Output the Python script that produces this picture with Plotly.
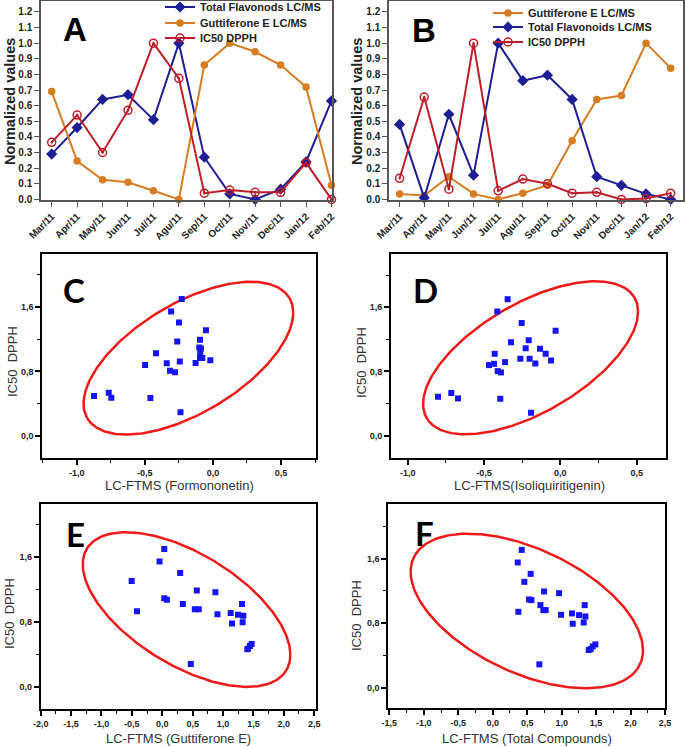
import numpy as np
import plotly.graph_objects as go

# ---------------- data ----------------
months = ["Mar/11", "Apr/11", "May/11", "Jun/11", "Jul/11", "Agu/11",
          "Sep/11", "Oct/11", "Nov/11", "Dec/11", "Jan/12", "Feb/12"]

a_flavonoids = [0.29, 0.46, 0.64, 0.67, 0.51, 1.00, 0.27, 0.035, 0.0, 0.065, 0.24, 0.63]
a_guttiferone = [0.69, 0.245, 0.125, 0.11, 0.055, 0.0, 0.86, 1.00, 0.945, 0.86, 0.72, 0.09]
a_ic50 = [0.365, 0.54, 0.30, 0.57, 1.00, 0.775, 0.04, 0.06, 0.045, 0.045, 0.235, 0.0]

b_guttiferone = [0.035, 0.025, 0.145, 0.035, 0.0, 0.04, 0.09, 0.375, 0.64, 0.665, 1.00, 0.84]
b_flavonoids = [0.48, 0.01, 0.545, 0.155, 1.00, 0.76, 0.795, 0.64, 0.145, 0.09, 0.035, 0.0]
b_ic50 = [0.135, 0.655, 0.065, 1.00, 0.055, 0.13, 0.10, 0.04, 0.045, 0.0, 0.005, 0.04]

c_x = [-0.229, -0.307, -0.249, -0.051, -0.262, -0.095, -0.100, -0.088, -0.093, -0.095, -0.078,
       -0.019, -0.418, -0.498, -0.339, -0.243, -0.127, -0.315, -0.278, -0.873, -0.765, -0.746,
       -0.459, -0.238]
c_y = [1.70, 1.546, 1.409, 1.313, 1.172, 1.193, 1.097, 1.085, 1.027, 0.966, 0.966,
       0.939, 1.027, 0.881, 0.902, 0.923, 0.906, 0.810, 0.790, 0.495, 0.536, 0.474,
       0.470, 0.291]

d_x = [-0.345, -0.413, -0.253, -0.031, -0.323, -0.207, -0.227, -0.133, -0.096, -0.430, -0.262,
       -0.201, -0.061, -0.164, -0.362, -0.434, -0.467, -0.410, -0.389, -0.801, -0.714, -0.670,
       -0.393, -0.192]
d_y = [1.70, 1.546, 1.405, 1.306, 1.165, 1.19, 1.09, 1.082, 1.02, 1.02, 0.958,
       0.958, 0.937, 0.90, 0.916, 0.895, 0.879, 0.804, 0.788, 0.485, 0.531, 0.464,
       0.46, 0.286]

e_x = [0.033, -0.044, 0.295, -0.503, 0.569, 0.875, 0.033, 0.077, 0.339, 1.312, 0.536,
       0.601, -0.416, 0.908, 1.126, 1.247, 1.334, 1.148, 1.323, 1.471, 1.443, 1.411,
       1.400, 0.470]
e_y = [1.703, 1.547, 1.407, 1.309, 1.19, 1.169, 1.095, 1.079, 1.026, 1.026, 0.96,
       0.96, 0.935, 0.898, 0.915, 0.894, 0.882, 0.784, 0.80, 0.533, 0.509, 0.476,
       0.468, 0.287]

f_x = [0.421, 0.363, 0.551, 0.459, 0.745, 0.963, 0.527, 0.561, 0.692, 1.335, 0.735,
       0.769, 0.372, 0.992, 1.151, 1.253, 1.345, 1.161, 1.320, 1.490, 1.451, 1.422,
       1.393, 0.677]
f_y = [1.707, 1.551, 1.41, 1.311, 1.192, 1.171, 1.093, 1.085, 1.023, 1.023, 0.961,
       0.961, 0.94, 0.903, 0.92, 0.899, 0.882, 0.792, 0.808, 0.536, 0.511, 0.478,
       0.466, 0.289]

# confidence ellipse parameters per panel (C, D, E, F): centre, std-devs, covariance
ell_cx = [-0.18, -0.195, 0.40, 0.495]
ell_cy = [0.965, 0.97, 0.957, 0.95]
ell_sx = [0.77, 0.704, 1.708, 1.686]
ell_sy = [0.95, 0.953, 0.952, 0.958]
ell_sxy = [0.435, 0.405, -0.95, -0.82]

x_titles = ["LC-FTMS (Formononetin)", "LC-FTMS(Isoliquiritigenin)",
            "LC-FTMS (Guttiferone E)", "LC-FTMS (Total Compounds)"]

# ---------------- styling ----------------
W, H = 685, 747
BLUE = "rgb(30,30,150)"
ORANGE = "rgb(214,125,35)"
RED = "rgb(190,30,40)"
SQ = "rgb(20,20,245)"
ELL = "rgb(240,25,25)"


def px_x(v):
    return v / W


def px_y(v):
    return 1 - v / H


fig = go.Figure()

# ---- line panels ----
def line_trace(y, name, color, symbol, size, xa, ya, legend):
    return go.Scatter(
        x=months, y=y, name=name, mode="lines+markers",
        line=dict(color=color, width=2),
        marker=dict(color=color, symbol=symbol, size=size,
                    line=dict(color=color, width=1.5)),
        xaxis=xa, yaxis=ya, legend=legend, cliponaxis=False)

fig.add_trace(line_trace(a_flavonoids, "Total Flavonods LC/MS", BLUE, "diamond", 7, "x", "y", "legend"))
fig.add_trace(line_trace(a_guttiferone, "Guttiferone E LC/MS", ORANGE, "circle", 6, "x", "y", "legend2"))
fig.add_trace(line_trace(a_ic50, "IC50 DPPH", RED, "circle-open-dot", 8, "x", "y", "legend3"))
fig.add_trace(line_trace(b_guttiferone, "Guttiferone E LC/MS", ORANGE, "circle", 6, "x2", "y2", "legend4"))
fig.add_trace(line_trace(b_flavonoids, "Total Flavonoids LC/MS", BLUE, "diamond", 7, "x2", "y2", "legend5"))
fig.add_trace(line_trace(b_ic50, "IC50 DPPH", RED, "circle-open-dot", 8, "x2", "y2", "legend6"))

# ---- scatter panels ----
scatter_sets = [(c_x, c_y), (d_x, d_y), (e_x, e_y), (f_x, f_y)]
t = np.linspace(0, 2 * np.pi, 300)
for i, (sx_data, sy_data) in enumerate(scatter_sets):
    xa = "x%d" % (i + 3)
    ya = "y%d" % (i + 3)
    k = ell_sxy[i] / ell_sx[i]
    m = np.sqrt(ell_sy[i] ** 2 - k ** 2)
    ex = ell_cx[i] + ell_sx[i] * np.cos(t)
    ey = ell_cy[i] + k * np.cos(t) + m * np.sin(t)
    fig.add_trace(go.Scatter(x=ex, y=ey, mode="lines", line=dict(color=ELL, width=2.5),
                             xaxis=xa, yaxis=ya, showlegend=False, hoverinfo="skip"))
    fig.add_trace(go.Scatter(x=sx_data, y=sy_data, mode="markers",
                             marker=dict(symbol="square", size=6, color=SQ),
                             xaxis=xa, yaxis=ya, showlegend=False))

# ---- axes ----
line_tick_font = dict(family="Liberation Sans, Arial", size=10, color="#222", weight="bold")
common_line_x = dict(type="category", showline=True, linecolor="#555", linewidth=1.5, mirror=True,
                     ticks="outside", ticklen=5, tickcolor="#555", tickangle=-45,
                     tickfont=line_tick_font, showgrid=False, zeroline=False, fixedrange=True,
                     automargin=False)
common_line_y = dict(range=[-0.004, 1.27], showline=True, linecolor="#555", linewidth=1.5, mirror=True,
                     ticks="outside", ticklen=5, tickcolor="#555", tickvals=[i / 10 for i in range(13)],
                     ticktext=["%.1f" % (i / 10) for i in range(13)],
                     tickfont=line_tick_font, showgrid=False, zeroline=False, fixedrange=True,
                     automargin=False)

fig.update_layout(
    xaxis=dict(domain=[px_x(41), px_x(332)], anchor="y", range=[-0.42, 11.02], **common_line_x),
    yaxis=dict(domain=[px_y(200), px_y(1)], anchor="x", **common_line_y),
    xaxis2=dict(domain=[px_x(389), px_x(683)], anchor="y2", range=[-0.43, 11.5], **common_line_x),
    yaxis2=dict(domain=[px_y(200), px_y(1)], anchor="x2", **common_line_y),
)

sc_tick_font = dict(family="Liberation Sans, Arial", size=9, color="#222", weight="bold")
sc_domains = [
    ([42.3, 315.7], [458.3, 254]),
    ([391, 665.7], [458, 254]),
    ([40.7, 316], [709, 504]),
    ([388.3, 665], [708, 504]),
]
sc_xranges = [[-1.253, 0.755], [-1.109, 0.69], [-2.0, 2.53], [-1.515, 2.5]]
sc_yranges = [[-0.28, 2.26], [-0.278, 2.263], [-0.267, 2.256], [-0.252, 2.276]]
sc_xticks = [[-1.0, -0.5, 0.0, 0.5], [-1.0, -0.5, 0.0, 0.5],
             [-2.0, -1.5, -1.0, -0.5, 0.0, 0.5, 1.0, 1.5, 2.0, 2.5],
             [-1.5, -1.0, -0.5, 0.0, 0.5, 1.0, 1.5, 2.0, 2.5]]
y_ticks = [0.0, 0.8, 1.6]


def fmt(v):
    return ("%.1f" % v).replace(".", ",")


for i in range(4):
    n = i + 3
    xd, yd = sc_domains[i]
    fig.layout["xaxis%d" % n] = dict(
        domain=[px_x(xd[0]), px_x(xd[1])], anchor="y%d" % n, range=sc_xranges[i],
        showline=True, linecolor="black", linewidth=2, mirror=True,
        ticks="outside", ticklen=5, tickwidth=1.5, tickcolor="black",
        tickvals=sc_xticks[i], ticktext=[fmt(v) for v in sc_xticks[i]],
        minor=dict(ticks="outside", ticklen=3, tickwidth=1.2, tickcolor="black", dtick=0.25, tick0=0,
                   showgrid=False),
        tickfont=sc_tick_font, showgrid=False, zeroline=False, fixedrange=True, automargin=False)
    fig.layout["yaxis%d" % n] = dict(
        domain=[px_y(yd[0]), px_y(yd[1])], anchor="x%d" % n, range=sc_yranges[i],
        showline=True, linecolor="black", linewidth=2, mirror=True,
        ticks="outside", ticklen=5, tickwidth=1.5, tickcolor="black",
        tickvals=y_ticks, ticktext=[fmt(v) for v in y_ticks],
        minor=dict(ticks="outside", ticklen=3, tickwidth=1.2, tickcolor="black", dtick=0.4, tick0=0,
                   showgrid=False),
        tickfont=sc_tick_font, showgrid=False, zeroline=False, fixedrange=True, automargin=False)

# ---- annotations (titles, panel letters) ----
ann = []


def add_ann(text, xc, yc, font, angle=0):
    ann.append(dict(text=text, x=px_x(xc), y=px_y(yc), xref="paper", yref="paper",
                    xanchor="center", yanchor="middle", textangle=angle, showarrow=False,
                    font=font))


for xc in [10, 357]:
    add_ann("<b>Normalized values</b>", xc, 102,
            dict(family="Liberation Sans, Arial", size=14.5, color="#222"), -90)
for xc, yc in [(12, 362), (361, 362), (9, 614), (356, 616)]:
    add_ann("IC50  DPPH", xc, yc, dict(family="Liberation Sans, Arial", size=13, color="#333"), -90)
for (xc, yc), txt in zip([(179, 485), (529, 485), (178, 738), (527, 738)], x_titles):
    add_ann(txt, xc, yc, dict(family="Liberation Sans, Arial", size=13, color="#333"))
for letter, xc, yc, fam in [("A", 75, 29, "Liberation Sans, Arial"), ("B", 424, 30, "Liberation Sans, Arial"),
                            ("C", 74, 290, "Lato, Open Sans"), ("D", 425, 290, "Lato, Open Sans"),
                            ("E", 75, 534, "Lato, Open Sans"), ("F", 424, 533, "Lato, Open Sans")]:
    add_ann("<b>%s</b>" % letter, xc, yc, dict(family=fam, size=33, color="black"))

legend_font = dict(family="Liberation Sans, Arial", size=11, color="#222", weight="bold")
legend_rows = [(160, 7), (160, 23), (160, 38), (488, 13), (488, 27), (488, 42)]
legend_layout = {}
for j, (lx, ly) in enumerate(legend_rows):
    key = "legend" if j == 0 else "legend%d" % (j + 1)
    legend_layout[key] = dict(x=px_x(lx), y=px_y(ly), xanchor="left", yanchor="middle",
                              bgcolor="rgba(0,0,0,0)", font=legend_font, itemwidth=30)

fig.update_layout(
    width=W, height=H, margin=dict(l=0, r=0, t=0, b=0, autoexpand=False),
    paper_bgcolor="white", plot_bgcolor="white",
    annotations=ann,
    showlegend=True,
    **legend_layout,
)

fig.write_html("out.html", config={"displayModeBar": False},
               post_script="document.body.style.margin='0';")
